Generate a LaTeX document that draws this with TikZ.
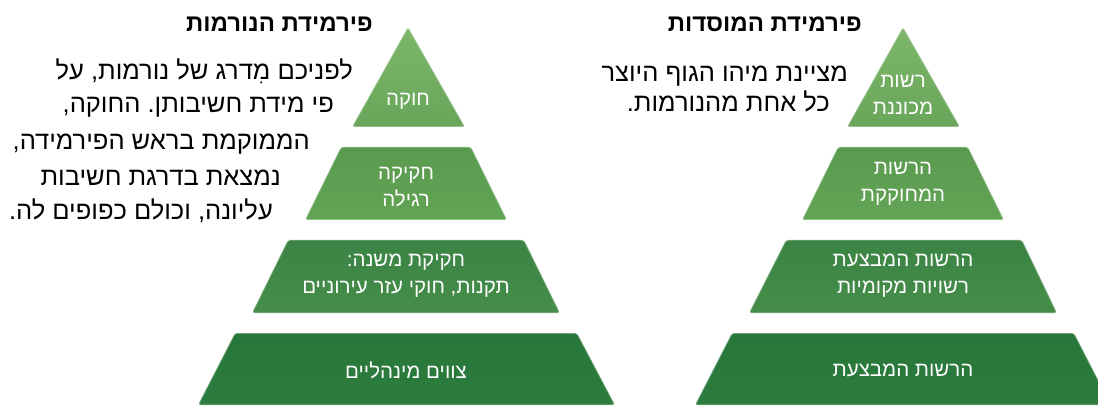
\documentclass[tikz,border=0pt]{standalone}
\usepackage{fontspec}
\setmainfont[Script=Hebrew]{Liberation Sans}
\TeXXeTstate=1
\definecolor{gAtop}{HTML}{7DB66B}
\definecolor{gAbot}{HTML}{69A65A}
\definecolor{gBtop}{HTML}{5A9A50}
\definecolor{gBbot}{HTML}{62A455}
\definecolor{gCtop}{HTML}{3B8444}
\definecolor{gCbot}{HTML}{468D4A}
\definecolor{gDtop}{HTML}{287639}
\definecolor{gDbot}{HTML}{2C7D3F}
\begin{document}
\frenchspacing
\begin{tikzpicture}[x=1pt,y=-1pt,
  body/.style={font=\fontsize{25.5}{30}\selectfont, inner sep=0pt, anchor=base east},
  ttl/.style={font=\fontsize{24}{28}\bfseries\selectfont, inner sep=0pt, anchor=base east},
  tiertext/.style={font=\fontsize{20.5}{27}\selectfont, text=white, align=center, inner sep=0pt},
  tierone/.style={top color=gAtop, bottom color=gAbot, rounded corners=2.5pt},
  tiertwo/.style={top color=gBtop, bottom color=gBbot, rounded corners=2.5pt},
  tierthree/.style={top color=gCtop, bottom color=gCbot, rounded corners=2.5pt},
  tierfour/.style={top color=gDtop, bottom color=gDbot, rounded corners=2.5pt},
  rim/.style={draw=white, draw opacity=0.3, line width=1.5pt, rounded corners=2.5pt}]
\useasboundingbox (0,0) rectangle (1098,406);
\clip (0,0) rectangle (1098,406);
\fill[white] (0,0) rectangle (1098,406);

% ---- left pyramid ----
\shade[tierone] (408,27) -- (465,127) -- (352,127) -- cycle;
\path[rim] (408,27) -- (465,127) -- (352,127) -- cycle;
\shade[tiertwo] (341,147) -- (471,147) -- (507,220) -- (305,220) -- cycle;
\path[rim] (341,147) -- (471,147) -- (507,220) -- (305,220) -- cycle;
\shade[tierthree] (288,240) -- (524,240) -- (560,313) -- (252,313) -- cycle;
\path[rim] (288,240) -- (524,240) -- (560,313) -- (252,313) -- cycle;
\shade[tierfour] (235,333) -- (577,333) -- (615,405) -- (198,405) -- cycle;
\path[rim] (235,333) -- (577,333) -- (615,405) -- (198,405) -- cycle;

% ---- right pyramid ----
\shade[tierone] (903,27) -- (960,127) -- (847,127) -- cycle;
\path[rim] (903,27) -- (960,127) -- (847,127) -- cycle;
\shade[tiertwo] (838,147) -- (968,147) -- (1004,220) -- (802,220) -- cycle;
\path[rim] (838,147) -- (968,147) -- (1004,220) -- (802,220) -- cycle;
\shade[tierthree] (786,240) -- (1022,240) -- (1057,313) -- (749,313) -- cycle;
\path[rim] (786,240) -- (1022,240) -- (1057,313) -- (749,313) -- cycle;
\shade[tierfour] (732,333) -- (1074,333) -- (1111,405) -- (695,405) -- cycle;
\path[rim] (732,333) -- (1074,333) -- (1111,405) -- (695,405) -- cycle;

% ---- tier labels ----
\node[tiertext] (lone) at (408,101) {\beginR חוקה\endR};
\node[tiertext] (ltwo) at (406,187) {\beginR חקיקה\endR\\\beginR רגילה\endR};
\node[tiertext] (lthree) at (406,276) {\beginR חקיקת משנה:\endR\\\beginR תקנות, חוקי עזר עירוניים\endR};
\node[tiertext] (lfour) at (406,370) {\beginR צווים מינהליים\endR};

\node[tiertext] (rone) at (903,95) {\beginR רשות\endR\\\beginR מכוננת\endR};
\node[tiertext] (rtwo) at (903,184) {\beginR הרשות\endR\\\beginR המחוקקת\endR};
\node[tiertext] (rthree) at (903,276) {\beginR הרשות המבצעת\endR\\\beginR רשויות מקומיות\endR};
\node[tiertext] (rfour) at (903,370) {\beginR הרשות המבצעת\endR};

% ---- titles ----
\node[ttl] (ltitle) at (373,32) {\beginR פירמידת הנורמות\endR};
\node[ttl] (rtitle) at (862,32) {\beginR פירמידת המוסדות\endR};

% ---- left body text ----
\node[body] (la) at (353,80) {\beginR לפניכם מִדרג של נורמות, על\endR};
\node[body] (lb) at (334,113) {\beginR פי מידת חשיבותן. החוקה,\endR};
\node[body] (lc) at (310,150) {\beginR הממוקמת בראש הפירמידה,\endR};
\node[body] (ld) at (281,186) {\beginR נמצאת בדרגת חשיבות\endR};
\node[body] (le) at (273,220) {\beginR עליונה, וכולם כפופים לה.\endR};

% ---- right body text ----
\node[body] (ra) at (848,82) {\beginR מציינת מיהו הגוף היוצר\endR};
\node[body] (rb) at (830,112) {\beginR כל אחת מהנורמות.\endR};
\end{tikzpicture}
\end{document}
